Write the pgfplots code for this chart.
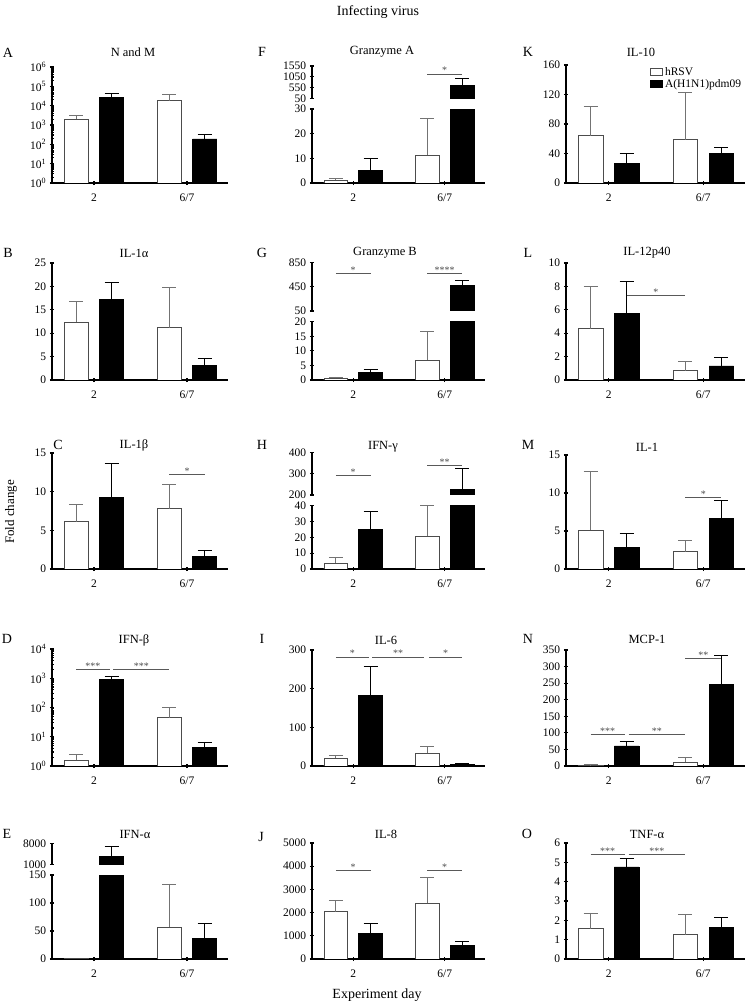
\documentclass[border=0pt]{standalone}
\usepackage{fontspec}
\setmainfont{Liberation Serif}
\usepackage{pgfplots}
\pgfplotsset{compat=1.18}
\newcommand{\tk}{\fontsize{11.5}{12}\selectfont}
\newcommand{\ttl}{\fontsize{12.5}{13}\selectfont}
\newcommand{\lt}{\fontsize{14}{15}\selectfont}
\pgfplotsset{
  base/.style={scale only axis, xmin=0.55, xmax=2.44, anchor=south west,
    tick style={black, line width=1.2pt},
    tick align=outside, major tick length=4.5pt, minor tick length=3pt,
    tick label style={font=\tk},
    xticklabel style={yshift=-5pt},
    /pgf/number format/assume math mode=true,
    /pgf/number format/1000 sep={},
    clip mode=individual},
  low/.style={base, axis x line=bottom, axis y line=left, xtick={1,2}, xticklabels={2,6/7},
    axis line style={-, line width=1.5pt}},
  up/.style={base, axis x line=none, axis y line=left, xtick=\empty,
    axis line style={-, line width=1.5pt}},
  wbn/.style={ybar, bar width=0.26, bar shift=0pt, fill=white, draw=black!70, line width=0.7pt,
    legend image code/.code={\draw[##1] (0pt,-3pt) rectangle (12pt,4pt);}},
  bbn/.style={ybar, bar width=0.26, bar shift=0pt, fill=black, draw=black, line width=0.7pt,
    legend image code/.code={\draw[##1] (0pt,-3pt) rectangle (12pt,4pt);}},
  wb/.style={wbn,
    error bars/y dir=plus, error bars/y explicit, error bars/error mark=-,
    error bars/error bar style={line width=0.9pt, black!55},
    error bars/error mark options={rotate=90, line width=0.9pt, mark size=7pt, black!55}},
  bb/.style={bbn,
    error bars/y dir=plus, error bars/y explicit, error bars/error mark=-,
    error bars/error bar style={line width=0.9pt, black},
    error bars/error mark options={rotate=90, line width=0.9pt, mark size=7pt, black}},
}
\newcommand{\bars}[8]{%
  \addplot[wb] coordinates {(0.81,#1) +- (0,#2) (1.81,#5) +- (0,#6)};
  \addplot[bb] coordinates {(1.19,#3) +- (0,#4) (2.19,#7) +- (0,#8)};
}
\newcommand{\sig}[5]{%
  \draw[black!65, line width=0.8pt] (axis cs:#1,#4) -- (axis cs:#2,#4);
  \node[anchor=base, inner sep=0pt, font=\fontsize{10}{10}\selectfont, black!70] at (axis cs:#3,#4) {#5};
}
\begin{document}
\begin{tikzpicture}
\useasboundingbox (0,0) rectangle (753pt,1008pt);
% global labels
\node[font=\fontsize{14}{15}\selectfont] at (378pt,996pt) {Infecting virus};
\node[font=\fontsize{14}{15}\selectfont] at (377pt,13pt) {Experiment day};
\node[font=\fontsize{13}{14}\selectfont, rotate=90] at (11pt,496pt) {Fold change};
% titles
\begin{scope}[every node/.style={font=\ttl}]
\node at (133pt,956pt) {N and M};
\node at (382pt,956pt) {Granzyme A};
\node at (641pt,956pt) {IL-10};
\node at (134pt,755pt) {IL-1α};
\node at (385pt,755pt) {Granzyme B};
\node at (647pt,755pt) {IL-12p40};
\node at (134pt,563pt) {IL-1β};
\node at (383pt,561pt) {IFN-γ};
\node at (647pt,561pt) {IL-1};
\node at (134pt,368pt) {IFN-β};
\node at (386pt,368pt) {IL-6};
\node at (647pt,369pt) {MCP-1};
\node at (135pt,174pt) {IFN-α};
\node at (386pt,174pt) {IL-8};
\node at (647pt,174pt) {TNF-α};
\end{scope}
\begin{scope}[every node/.style={font=\lt}]
\node at (8pt,955pt) {A};
\node at (8pt,755pt) {B};
\node at (58pt,563pt) {C};
\node at (7pt,369pt) {D};
\node at (7pt,174pt) {E};
\node at (262pt,956pt) {F};
\node at (262pt,755pt) {G};
\node at (262pt,563pt) {H};
\node at (262pt,369pt) {I};
\node at (261pt,171pt) {J};
\node at (528pt,956pt) {K};
\node at (528pt,755pt) {L};
\node at (528pt,563pt) {M};
\node at (528pt,369pt) {N};
\node at (527pt,174pt) {O};
\end{scope}

% ===== A =====
\begin{axis}[low, at={(52pt,825pt)}, width=176pt, height=116pt, ymode=log, ymin=1, ymax=1e6,
  ytick={1,10,100,1000,10000,100000,1000000},
  yticklabels={10\textsuperscript{0},10\textsuperscript{1},10\textsuperscript{2},10\textsuperscript{3},10\textsuperscript{4},10\textsuperscript{5},10\textsuperscript{6}},
  minor ytick={2,3,4,5,6,7,8,9,20,30,40,50,60,70,80,90,200,300,400,500,600,700,800,900,2000,3000,4000,5000,6000,7000,8000,9000,2e4,3e4,4e4,5e4,6e4,7e4,8e4,9e4,2e5,3e5,4e5,5e5,6e5,7e5,8e5,9e5}]
\bars{1950}{1050}{25700}{17300}{18000}{20000}{190}{140}
\end{axis}
% ===== B =====
\begin{axis}[low, at={(52pt,628pt)}, width=176pt, height=117pt, ymin=0, ymax=25, ytick={0,5,...,25}]
\bars{12.4}{4.3}{17.3}{3.6}{11.2}{8.6}{3.2}{1.3}
\end{axis}
% ===== C =====
\begin{axis}[low, at={(52pt,439pt)}, width=176pt, height=116pt, ymin=0, ymax=15, ytick={0,5,10,15}]
\bars{6.1}{2.2}{9.2}{4.5}{7.8}{3.1}{1.6}{0.8}
\sig{1.81}{2.19}{2.0}{12.2}{*}
\end{axis}
% ===== D =====
\begin{axis}[low, at={(52pt,242pt)}, width=176pt, height=117pt, ymode=log, ymin=1, ymax=1e4,
  ytick={1,10,100,1000,10000},
  yticklabels={10\textsuperscript{0},10\textsuperscript{1},10\textsuperscript{2},10\textsuperscript{3},10\textsuperscript{4}},
  minor ytick={2,3,4,5,6,7,8,9,20,30,40,50,60,70,80,90,200,300,400,500,600,700,800,900,2000,3000,4000,5000,6000,7000,8000,9000}]
\bars{1.55}{0.85}{940}{210}{45}{57}{4.3}{2.3}
\sig{0.81}{1.17}{0.99}{2000}{***}
\sig{1.21}{1.81}{1.51}{2000}{***}
\end{axis}
% ===== E lower =====
\begin{axis}[low, at={(52pt,49pt)}, width=176pt, height=84pt, ymin=0, ymax=150, ytick={0,50,100,150}]
\addplot[wbn] coordinates {(0.81,1.2)};
\addplot[wb] coordinates {(1.81,57) +- (0,77)};
\addplot[bbn] coordinates {(1.19,150)};
\addplot[bb] coordinates {(2.19,37.4) +- (0,25.4)};
\end{axis}
% ===== E upper =====
\begin{axis}[up, at={(52pt,143.7pt)}, width=176pt, height=21pt, ymin=1000, ymax=8000, ytick={1000,8000}]
\addplot[bb] coordinates {(1.19,3700) +- (0,3200)};
\end{axis}
% ===== F lower =====
\begin{axis}[low, at={(312pt,825pt)}, width=173pt, height=74pt, ymin=0, ymax=30, ytick={0,10,20,30}]
\addplot[wb] coordinates {(0.81,1.05) +- (0,0.85) (1.81,11.3) +- (0,14.7)};
\addplot[bb] coordinates {(1.19,5.1) +- (0,4.8)};
\addplot[bbn] coordinates {(2.19,30)};
\end{axis}
% ===== F upper =====
\begin{axis}[up, at={(312pt,909.7pt)}, width=173pt, height=32.3pt, ymin=50, ymax=1550, ytick={50,550,1050,1550}]
\addplot[bb] coordinates {(2.19,654) +- (0,306)};
\sig{1.81}{2.19}{2.0}{1178}{*}
\end{axis}
% ===== G lower =====
\begin{axis}[low, at={(312pt,628pt)}, width=173pt, height=58.3pt, ymin=0, ymax=20, ytick={0,5,...,20}]
\addplot[wb] coordinates {(0.81,0.57) +- (0,0.46) (1.81,6.86) +- (0,9.94)};
\addplot[bb] coordinates {(1.19,2.63) +- (0,1.03)};
\addplot[bbn] coordinates {(2.19,20)};
\end{axis}
% ===== G upper =====
\begin{axis}[up, at={(312pt,697pt)}, width=173pt, height=48.3pt, ymin=50, ymax=850, ytick={50,450,850}]
\addplot[bb] coordinates {(2.19,469) +- (0,94)};
\sig{0.81}{1.19}{1.0}{674}{*}
\sig{1.81}{2.19}{2.0}{674}{****}
\end{axis}
% ===== H lower =====
\begin{axis}[low, at={(312pt,439pt)}, width=173pt, height=63.3pt, ymin=0, ymax=40, ytick={0,10,...,40}]
\addplot[wb] coordinates {(0.81,3.8) +- (0,3.5) (1.81,20.6) +- (0,19.4)};
\addplot[bb] coordinates {(1.19,24.8) +- (0,11.6)};
\addplot[bbn] coordinates {(2.19,40)};
\end{axis}
% ===== H upper =====
\begin{axis}[up, at={(312pt,513pt)}, width=173pt, height=42.3pt, ymin=200, ymax=400, ytick={200,300,400}]
\addplot[bb] coordinates {(2.19,229) +- (0,96)};
\sig{0.81}{1.19}{1.0}{291}{*}
\sig{1.81}{2.19}{2.0}{338}{**}
\end{axis}
% ===== I =====
\begin{axis}[low, at={(312pt,242pt)}, width=173pt, height=116pt, ymin=0, ymax=300, ytick={0,100,200,300}]
\bars{19.7}{8.3}{182}{76}{32.6}{18.4}{5}{1.5}
\sig{0.81}{1.17}{0.99}{282}{*}
\sig{1.21}{1.77}{1.49}{282}{**}
\sig{1.83}{2.19}{2.01}{282}{*}
\end{axis}
% ===== J =====
\begin{axis}[low, at={(312pt,49pt)}, width=173pt, height=116pt, ymin=0, ymax=5000, ytick={0,1000,...,5000}]
\bars{2040}{470}{1120}{420}{2400}{1114}{570}{190}
\sig{0.81}{1.19}{1.0}{3830}{*}
\sig{1.81}{2.19}{2.0}{3830}{*}
\end{axis}
% ===== K =====
\begin{axis}[low, at={(566pt,825pt)}, width=179pt, height=118pt, ymin=0, ymax=160, ytick={0,40,...,160},
  legend style={draw=none, fill=none, at={(rel axis cs:0.47,1.0)}, anchor=north west, font=\tk, inner sep=0pt, row sep=-1pt},
  legend cell align=left]
\bars{64.3}{39.7}{26.3}{13.4}{58.5}{63.9}{39.7}{8.6}
\legend{hRSV,A(H1N1)pdm09}
\end{axis}
% ===== L =====
\begin{axis}[low, at={(566pt,628pt)}, width=179pt, height=117pt, ymin=0, ymax=10, ytick={0,2,...,10}]
\bars{4.4}{3.6}{5.7}{2.7}{0.8}{0.8}{1.2}{0.7}
\sig{1.19}{1.81}{1.5}{7.2}{*}
\end{axis}
% ===== M =====
\begin{axis}[low, at={(566pt,439pt)}, width=179pt, height=114pt, ymin=0, ymax=15, ytick={0,5,10,15}]
\bars{5.1}{7.7}{2.8}{1.9}{2.3}{1.5}{6.6}{2.4}
\sig{1.81}{2.19}{2.0}{9.4}{*}
\end{axis}
% ===== N =====
\begin{axis}[low, at={(566pt,242pt)}, width=179pt, height=116pt, ymin=0, ymax=350, ytick={0,50,...,350}]
\bars{3}{1.5}{60.5}{13}{11.2}{13.8}{245}{90}
\sig{0.81}{1.17}{0.99}{95}{***}
\sig{1.21}{1.81}{1.51}{95}{**}
\sig{1.81}{2.19}{2.0}{325}{**}
\end{axis}
% ===== O =====
\begin{axis}[low, at={(566pt,49pt)}, width=179pt, height=116pt, ymin=0, ymax=6, ytick={0,1,...,6}]
\bars{1.57}{0.81}{4.76}{0.46}{1.25}{1.04}{1.63}{0.52}
\sig{0.81}{1.17}{0.99}{5.43}{***}
\sig{1.21}{1.81}{1.51}{5.43}{***}
\end{axis}
\end{tikzpicture}
\end{document}
